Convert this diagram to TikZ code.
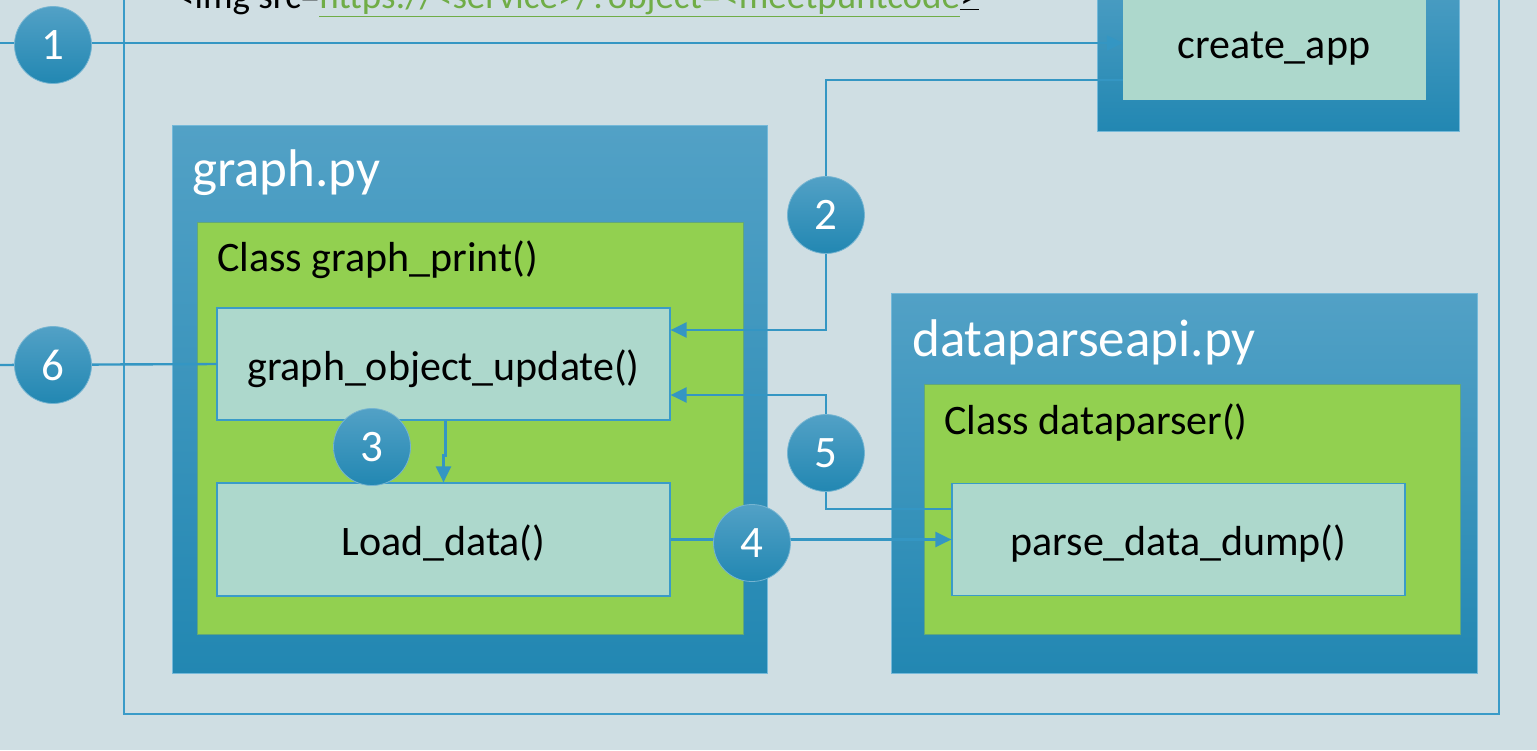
\documentclass[tikz,border=0pt]{standalone}
\usepackage{fontspec}
\setmainfont{Carlito}
\usetikzlibrary{arrows.meta}
\definecolor{bgc}{RGB}{207,222,227}
\definecolor{framec}{RGB}{58,155,200}
\definecolor{btop}{RGB}{82,161,198}
\definecolor{bbot}{RGB}{34,135,178}
\definecolor{grn}{RGB}{146,208,80}
\definecolor{mint}{RGB}{173,216,204}
\definecolor{conc}{RGB}{52,150,195}
\definecolor{linkc}{RGB}{112,173,71}
\tikzset{
  outerbox/.style={draw=framec!70!white, line width=1pt, top color=btop, bottom color=bbot, inner sep=0pt},
  greenbox/.style={fill=grn, draw=grn!85!black!60!framec, line width=0.6pt, inner sep=0pt},
  funcbox/.style={fill=mint, draw=framec, line width=1.2pt, inner sep=0pt, minimum width=453pt, minimum height=112pt, text height=38pt, text depth=6pt, font=\fontsize{42}{50}\selectfont},
  conn/.style={draw=conc, line width=2.4pt},
  arr/.style={-{Triangle[length=16pt,width=15pt]}},
  numc/.style={circle, minimum size=77pt, inner sep=0pt, top color=btop, bottom color=bbot, draw=btop!80!white, line width=0.8pt, text=white, font=\fontsize{45}{54}\selectfont},
  titletxt/.style={anchor=base west, text=white, inner sep=0pt, font=\fontsize{53}{60}\selectfont},
  classtxt/.style={anchor=base west, text=black, inner sep=0pt, font=\fontsize{42}{50}\selectfont}
}
\begin{document}
\begin{tikzpicture}[x=1pt,y=-1pt]
\useasboundingbox (0,0) rectangle (1537,750);
\clip (0,0) rectangle (1537,750);
\fill[bgc] (0,0) rectangle (1537,750);
% outer frame
\draw[framec, line width=1.5pt] (124,-20) rectangle (1499,714);
% top text
\node[anchor=base west, inner sep=0pt, font=\fontsize{37}{44}\selectfont] (imgtxt) at (176,8) {<img src=\textcolor{linkc}{\underline{https://<service>/?object=<meetpuntcode}}\underline{>}};
% create_app
\node[outerbox, minimum width=362pt, minimum height=171pt] (capp) at (1278,45.5) {};
\node[fill=mint, draw=mint, inner sep=0pt, minimum width=302pt, minimum height=139pt] (cappin) at (1274,29.5) {};
\node[font=\fontsize{42}{50}\selectfont, inner sep=0pt, text height=32pt, text depth=8pt] (capptxt) at (1274,46) {create\_app};
% graph.py
\node[outerbox, minimum width=595pt, minimum height=548pt] (graph) at (469.5,399) {};
\node[titletxt] (gtitle) at (192,186) {graph.py};
\node[greenbox, minimum width=546pt, minimum height=412pt] (ggreen) at (470,428) {};
\node[classtxt] (gclass) at (217,271) {Class graph\_print()};
\node[funcbox] (gou) at (443.5,364) {graph\_object\_update()};
\node[funcbox, minimum height=113pt] (ld) at (443.5,539.5) {Load\_data()};
% dataparseapi.py
\node[outerbox, minimum width=586pt, minimum height=380pt] (dpa) at (1184,483) {};
\node[titletxt] (dtitle) at (912,356) {dataparseapi.py};
\node[greenbox, minimum width=536pt, minimum height=250pt] (dgreen) at (1192,509) {};
\node[classtxt] (dclass) at (944,434) {Class dataparser()};
\node[funcbox] (pdd) at (1178.5,539.5) {parse\_data\_dump()};
% connectors
\coordinate (s1) at (0,43);
\coordinate (s6) at (0,365);
\draw[conn, arr] (s1) -- (cappin.west |- s1);
\draw[conn, arr] (cappin.west |- 0,80) -- (826,80) -- (826,330) -- (gou.east |- 0,330);
\draw[conn, arr] ([xshift=2pt]gou.south) -- ++(0,35) -- ++(-2,0) -- (ld.north);
\draw[conn, arr] (ld.east) -- (pdd.west);
\draw[conn, arr] (pdd.west |- 0,509) -- (826,509) -- (826,395) -- (gou.east |- 0,395);
\draw[conn] (s6) -- (gou.west);
% numbered circles
\node[numc] (n1) at (53,45) {1};
\node[numc] (n2) at (826,215) {2};
\node[numc] (n3) at (372,447) {3};
\node[numc] (n4) at (752,543) {4};
\node[numc] (n5) at (826,453) {5};
\node[numc] (n6) at (53,365) {6};
\end{tikzpicture}
\end{document}
